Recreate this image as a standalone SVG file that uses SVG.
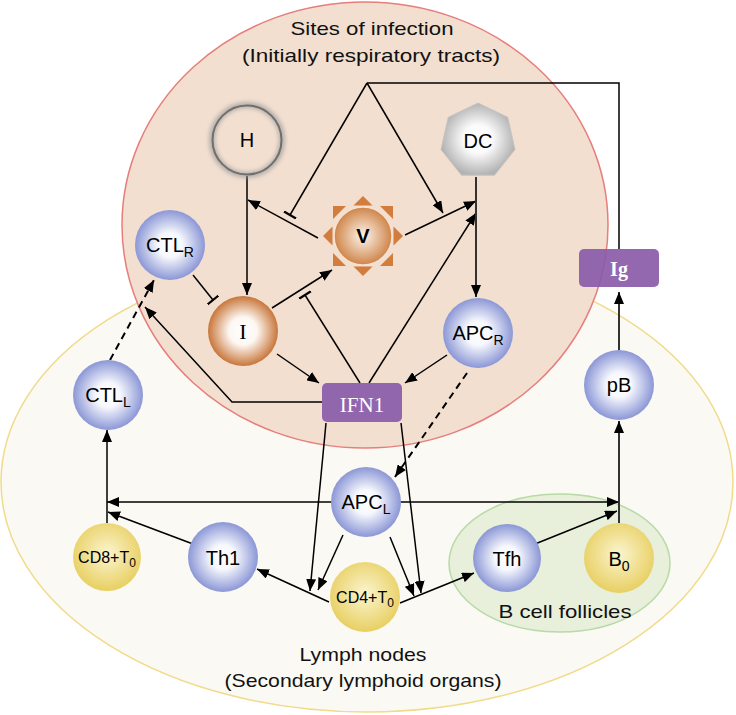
<svg xmlns="http://www.w3.org/2000/svg" width="736" height="715" viewBox="0 0 736 715">
<defs>
<radialGradient id="gBlue" cx="50%" cy="50%" r="50%"><stop offset="0" stop-color="#ffffff"/><stop offset="0.35" stop-color="#f7f8fd"/><stop offset="1" stop-color="#8b97d6"/></radialGradient>
<radialGradient id="gYel" cx="50%" cy="45%" r="55%"><stop offset="0" stop-color="#fbf5cf"/><stop offset="1" stop-color="#e8cf62"/></radialGradient>
<radialGradient id="gOr" cx="50%" cy="50%" r="50%"><stop offset="0" stop-color="#ffffff"/><stop offset="0.4" stop-color="#fdf7f2"/><stop offset="1" stop-color="#c8763a"/></radialGradient>
<radialGradient id="gV" cx="50%" cy="50%" r="50%"><stop offset="0" stop-color="#fdf6ee"/><stop offset="1" stop-color="#cf8448"/></radialGradient>
<radialGradient id="gGray" cx="50%" cy="50%" r="50%"><stop offset="0" stop-color="#ffffff"/><stop offset="0.4" stop-color="#fafafa"/><stop offset="1" stop-color="#b3b3b3"/></radialGradient>
<filter id="blur" x="-30%" y="-30%" width="160%" height="160%"><feGaussianBlur stdDeviation="2"/></filter>
<marker id="arr" viewBox="0 0 12 10" refX="12" refY="5" markerWidth="12" markerHeight="10" markerUnits="userSpaceOnUse" orient="auto"><path d="M0,0 L12,5 L0,10 z" fill="#000"/></marker>
<marker id="bar" viewBox="0 0 4 14" refX="2" refY="7" markerWidth="4" markerHeight="14" markerUnits="userSpaceOnUse" orient="auto"><path d="M2,0 V14" stroke="#000" stroke-width="2.2"/></marker>
</defs>
<style>
.region{font-family:"Liberation Sans",Arial,sans-serif;font-size:19px;fill:#111;text-anchor:middle}
.lbl{font-family:"Liberation Sans",Arial,sans-serif;font-size:20px;fill:#000;text-anchor:middle}
.sm{font-family:"Liberation Sans",Arial,sans-serif;font-size:16px;fill:#000;text-anchor:middle}
.ser{font-family:"Liberation Serif","Times New Roman",serif;text-anchor:middle}
.blue{fill:url(#gBlue)}
.yel{fill:url(#gYel)}
.box{fill:#8a5ba8;fill-opacity:0.92}
.c{fill:none;stroke:#000;stroke-width:1.5}
.a{marker-end:url(#arr)}
.b{marker-end:url(#bar)}
.d{stroke-dasharray:7 5;stroke-width:2}
.thick{stroke:#333;stroke-width:2}
.tri{fill:#d27d3d}
</style>
<rect width="736" height="715" fill="#ffffff"/>
<g id="regions">
<ellipse cx="367" cy="482" rx="366" ry="230" fill="#fbf9f3" stroke="#f1db8a" stroke-width="1.5"/>
<ellipse cx="365" cy="225" rx="243" ry="223" fill="#f2dfd0" stroke="#e67e7c" stroke-width="1.5"/>
<ellipse cx="559.5" cy="563" rx="110.5" ry="69" fill="#e8f0dc" stroke="#b7daa6" stroke-width="1.5"/>
<text class="region" x="372" y="35" textLength="163" lengthAdjust="spacingAndGlyphs">Sites of infection</text>
<text class="region" x="371" y="62" textLength="258" lengthAdjust="spacingAndGlyphs">(Initially respiratory tracts)</text>
<text class="region" x="363" y="661" textLength="127" lengthAdjust="spacingAndGlyphs">Lymph nodes</text>
<text class="region" x="363" y="687" textLength="277" lengthAdjust="spacingAndGlyphs">(Secondary lymphoid organs)</text>
<text class="region" x="565" y="618" textLength="133" lengthAdjust="spacingAndGlyphs">B cell follicles</text>
</g>
<g id="connectors">
<polyline class="c" points="619,249 619,83 367,83"/>
<line class="c b" x1="367" y1="83" x2="290" y2="215"/>
<line class="c a" x1="367" y1="83" x2="443" y2="213"/>
<line class="c a" x1="318" y1="238" x2="248" y2="200"/>
<line class="c a" x1="247" y1="176" x2="247" y2="295"/>
<line class="c b" x1="193" y1="275" x2="213" y2="300"/>
<line class="c a" x1="272" y1="308" x2="332" y2="270"/>
<line class="c b" x1="360" y1="383" x2="305" y2="295"/>
<line class="c a" x1="277" y1="354" x2="319" y2="383"/>
<polyline class="c a" points="322,402 232,402 145,307"/>
<line class="c a" x1="447" y1="355" x2="405" y2="383"/>
<line class="c a d" x1="467" y1="373" x2="395" y2="477"/>
<line class="c a d" x1="110" y1="360" x2="154" y2="280"/>
<line class="c a" x1="405" y1="235" x2="476" y2="201"/>
<line class="c a" x1="369" y1="383" x2="476" y2="213"/>
<line class="c a thick" x1="476" y1="177" x2="476" y2="297"/>
<line class="c a" x1="326" y1="423" x2="310" y2="591"/>
<line class="c a" x1="401" y1="423" x2="421" y2="593"/>
<line class="c a" x1="343" y1="535" x2="318" y2="590"/>
<line class="c a" x1="390" y1="537" x2="414" y2="596"/>
<line class="c a" x1="329" y1="602" x2="257" y2="569"/>
<line class="c a" x1="400" y1="603" x2="474" y2="573"/>
<line class="c a" x1="332" y1="502" x2="107" y2="502"/>
<line class="c a" x1="400" y1="502" x2="619" y2="502"/>
<line class="c a" x1="107" y1="523" x2="107" y2="430"/>
<line class="c a" x1="193" y1="544" x2="108" y2="512"/>
<line class="c a thick" x1="619" y1="523" x2="619" y2="421"/>
<line class="c a" x1="535" y1="544" x2="617" y2="511"/>
<line class="c a thick" x1="619" y1="350" x2="619" y2="292"/>
</g>
<g id="H">
<circle cx="247" cy="140" r="35" fill="none" stroke="#9a9a9a" stroke-width="6" filter="url(#blur)" opacity="0.7"/>
<circle cx="247" cy="140" r="34.5" fill="none" stroke="#6f6f6f" stroke-width="2"/>
<text class="lbl" x="247" y="147">H</text>
</g>
<g id="DC">
<polygon points="478,103 507.7,117.3 515,149.5 494.5,175.2 461.5,175.2 441,149.5 448.3,117.3" fill="url(#gGray)" stroke="#c4c4c4" stroke-width="1" stroke-linejoin="round"/>
<text class="lbl" x="478" y="148">DC</text>
</g>
<g id="V">
<g transform="translate(363,236)">
<polygon class="tri" points="0,-40 -9.5,-30.5 9.5,-30.5"/>
<polygon class="tri" points="0,40 -9.5,30.5 9.5,30.5"/>
<polygon class="tri" points="-40,0 -30.5,-9.5 -30.5,9.5"/>
<polygon class="tri" points="40,0 30.5,-9.5 30.5,9.5"/>
<polygon class="tri" points="-30,-30 -17,-30 -30,-17"/>
<polygon class="tri" points="30,-30 17,-30 30,-17"/>
<polygon class="tri" points="-30,30 -17,30 -30,17"/>
<polygon class="tri" points="30,30 17,30 30,17"/>
</g>
<circle cx="363" cy="236" r="29" fill="url(#gV)" stroke="#f6e2d0" stroke-width="1.5"/>
<text class="lbl" x="363" y="243" font-weight="bold">V</text>
</g>
<g id="CTL_R">
<circle class="blue" cx="170" cy="245" r="35"/>
<text class="lbl" x="170" y="252">CTL<tspan font-size="14" dy="5">R</tspan></text>
</g>
<g id="I">
<circle cx="243" cy="331" r="35" fill="url(#gOr)"/>
<text class="ser" x="243" y="339" font-size="22">I</text>
</g>
<g id="APC_R">
<circle class="blue" cx="478" cy="333" r="35"/>
<text class="lbl" x="478" y="340">APC<tspan font-size="14" dy="5">R</tspan></text>
</g>
<g id="IFN1">
<rect class="box" x="322" y="383" width="80" height="39" rx="5"/>
<text class="ser" x="362" y="412" font-size="21" fill="#ffffff">IFN1</text>
</g>
<g id="Ig">
<rect class="box" x="579" y="249" width="80" height="38" rx="5"/>
<text class="ser" x="619" y="276" font-size="20" font-weight="bold" fill="#ffffff">Ig</text>
</g>
<g id="CTL_L">
<circle class="blue" cx="108" cy="395" r="35"/>
<text class="lbl" x="108" y="402">CTL<tspan font-size="14" dy="5">L</tspan></text>
</g>
<g id="pB">
<circle class="blue" cx="619" cy="385" r="35"/>
<text class="lbl" x="619" y="392">pB</text>
</g>
<g id="APC_L">
<circle class="blue" cx="366" cy="502" r="35"/>
<text class="lbl" x="366" y="509">APC<tspan font-size="14" dy="5">L</tspan></text>
</g>
<g id="CD8T0">
<circle class="yel" cx="107" cy="557" r="34"/>
<text class="sm" x="107" y="563">CD8+T<tspan font-size="12" dy="4">0</tspan></text>
</g>
<g id="Th1">
<circle class="blue" cx="223" cy="557" r="35"/>
<text class="lbl" x="223" y="565" font-size="21">Th1</text>
</g>
<g id="CD4T0">
<circle class="yel" cx="365" cy="597" r="35"/>
<text class="sm" x="365" y="603">CD4+T<tspan font-size="12" dy="4">0</tspan></text>
</g>
<g id="Tfh">
<circle class="blue" cx="507" cy="558" r="34"/>
<text class="lbl" x="507" y="566">Tfh</text>
</g>
<g id="B0">
<circle class="yel" cx="619" cy="558" r="35"/>
<text class="lbl" x="619" y="566">B<tspan font-size="14" dy="5">0</tspan></text>
</g>
</svg>
